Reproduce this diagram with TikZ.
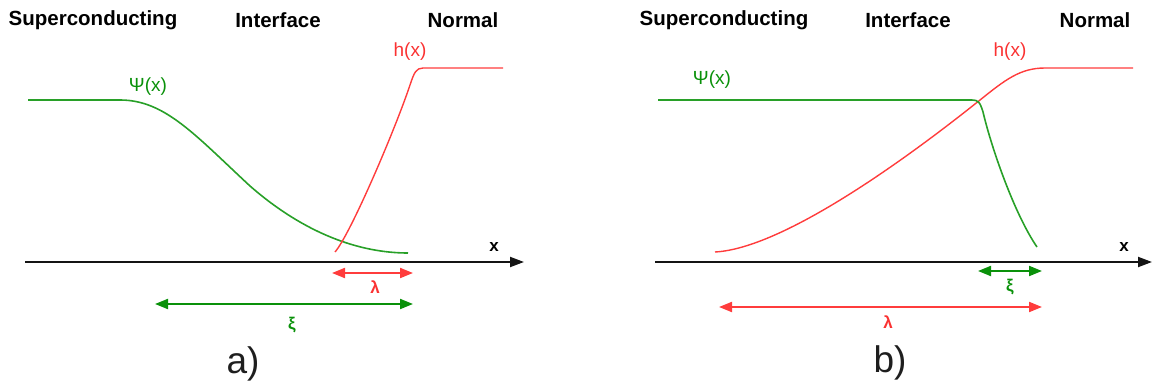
\documentclass[tikz,border=0pt]{standalone}
\usepackage{fontspec}
\setmainfont{Liberation Sans}
\usetikzlibrary{arrows.meta}
\definecolor{gline}{RGB}{40,160,40}
\definecolor{gtext}{RGB}{10,145,10}
\definecolor{rline}{RGB}{255,60,60}
\definecolor{rtext}{RGB}{250,50,50}
\definecolor{axiscol}{RGB}{20,20,20}
\definecolor{captcol}{RGB}{30,30,30}
\tikzset{
  head/.style={font=\fontsize{20.5}{24}\selectfont\bfseries, inner sep=0pt},
  flabel/.style={font=\fontsize{19}{22}\selectfont, inner sep=0pt},
  glabel/.style={font=\fontsize{17}{20}\selectfont\bfseries, inner sep=0pt},
  xlabel/.style={font=\fontsize{17}{20}\selectfont\bfseries, inner sep=0pt},
  caption/.style={font=\fontsize{37}{40}\selectfont, text=captcol, inner sep=0pt},
  axis/.style={draw=axiscol, line width=2pt, -{Triangle[length=14pt,width=10pt]}},
  gcurve/.style={draw=gline, line width=1.6pt},
  rcurve/.style={draw=rline, line width=1.4pt},
  garrow/.style={draw=gtext, line width=2pt, {Triangle[length=13pt,width=10pt]}-{Triangle[length=13pt,width=10pt]}},
  rarrow/.style={draw=rline, line width=2pt, {Triangle[length=13pt,width=10pt]}-{Triangle[length=13pt,width=10pt]}}
}
\begin{document}
\begin{tikzpicture}[x=1pt,y=-1pt]
\useasboundingbox (0,0) rectangle (1153,387);

% ---------- panel a ----------
\node[head] (sa) at (93,20) {Superconducting};
\node[head] (ia) at (278,20) {Interface};
\node[head] (na) at (463,20) {Normal};

\coordinate (axa0) at (25,262);
\coordinate (axa1) at (524,262);
\draw[axis] (axa0) -- (axa1);
\node[xlabel] (xa) at (494,247) {x};

\draw[gcurve] (28,100) -- (120,100)
  .. controls (165,100) and (195,135) .. (250,186)
  .. controls (305,234) and (360,253) .. (408,253);
\node[flabel, text=gtext] (psia) at (148,87) {Ψ(x)};

\draw[rcurve] (335,252) .. controls (350,235) and (395,130) .. (410,85)
  .. controls (414,73) and (416,68) .. (423,68) -- (503,68);
\node[flabel, text=rtext] (ha) at (410,52) {h(x)};

\coordinate (la0) at (332,273);
\coordinate (la1) at (413,273);
\draw[rarrow] (la0) -- (la1);
\node[glabel, text=rtext] (lama) at (375,287) {λ};

\coordinate (xia0) at (155,304);
\coordinate (xia1) at (413,304);
\draw[garrow] (xia0) -- (xia1);
\node[glabel, text=gtext] (xilab) at (292,325) {ξ};

\node[caption] (capa) at (243,364) {a)};

% ---------- panel b ----------
\node[head] (sb) at (724,20) {Superconducting};
\node[head] (ib) at (908,20) {Interface};
\node[head] (nb) at (1095,20) {Normal};

\coordinate (axb0) at (655,262);
\coordinate (axb1) at (1152,262);
\draw[axis] (axb0) -- (axb1);
\node[xlabel] (xb) at (1124,247) {x};

\draw[rcurve] (715,252) .. controls (790,248) and (930,140) .. (980,100)
  .. controls (1005,80) and (1020,68) .. (1045,68) -- (1133,68);
\node[flabel, text=rtext] (hb) at (1010,52) {h(x)};

\draw[gcurve] (658,100) -- (972,100)
  .. controls (978,100) and (980,102) .. (983,112)
  .. controls (992,150) and (1015,215) .. (1037,247);
\node[flabel, text=gtext] (psib) at (712,80) {Ψ(x)};

\coordinate (xib0) at (978,271);
\coordinate (xib1) at (1042,271);
\draw[garrow] (xib0) -- (xib1);
\node[glabel, text=gtext] (xiblab) at (1010,287) {ξ};

\coordinate (lb0) at (719,307);
\coordinate (lb1) at (1042,307);
\draw[rarrow] (lb0) -- (lb1);
\node[glabel, text=rtext] (lamb) at (888,322) {λ};

\node[caption] (capb) at (890,363) {b)};
\end{tikzpicture}
\end{document}
